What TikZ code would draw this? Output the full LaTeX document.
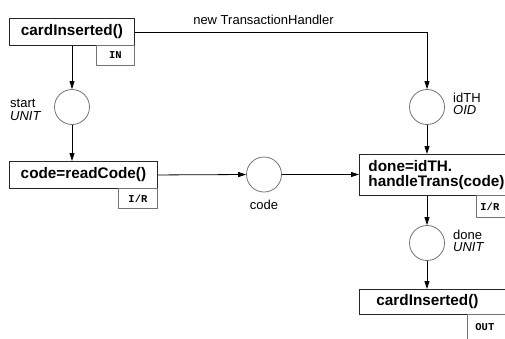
\documentclass[tikz,border=0pt]{standalone}
\usepackage{fontspec}
\setmainfont{Liberation Sans}
\newfontfamily\tagfont{Liberation Mono}
\usetikzlibrary{arrows.meta}

\begin{document}
\begin{tikzpicture}[x=1pt,y=-1pt,
  op/.style={draw=black!85, line width=0.9pt, font=\fontsize{15.3}{14.5}\selectfont\bfseries,
             inner ysep=0pt, anchor=north west},
  tagbox/.style={draw=black!55, line width=0.8pt, font=\tagfont\fontsize{10.5}{12}\selectfont\bfseries,
             inner ysep=0pt, anchor=north west, align=left},
  place/.style={circle, draw=black!55, line width=0.8pt, minimum size=35pt, inner sep=0pt},
  lbl/.style={font=\fontsize{13}{12.5}\selectfont, inner sep=0pt, align=left},
  flow/.style={draw=black, line width=0.8pt, -{Triangle[length=8pt,width=5pt]}},
]
\useasboundingbox (0,0) rectangle (505,338);
\clip (0,0) rectangle (505,338);

% operation boxes
\node[op, minimum width=125pt, minimum height=27pt, inner xsep=0pt] (ci1) at (9,18) {cardInserted()};
\node[op, minimum width=148pt, minimum height=27pt, inner xsep=0pt] (rc) at (9,161) {code=readCode()};
\node[op, text width=140pt, inner xsep=9pt, minimum height=41pt, align=left] (ht) at (359,154)
  {done=idTH.\\handleTrans(code)};
\node[op, text width=113pt, inner xsep=17pt, minimum height=25pt, align=left] (ci2) at (359,289) {cardInserted()};

% kind tags under the boxes
\node[tagbox, minimum width=38pt, minimum height=20pt, inner xsep=0pt, align=center] (tin) at (96,45) {IN};
\node[tagbox, minimum width=39pt, minimum height=20pt, inner xsep=0pt, align=center] (tir1) at (118,188) {I/R};
\node[tagbox, text width=32pt, inner xsep=4pt, minimum height=22pt] (tir2) at (476,195) {I/R};
\node[tagbox, text width=32pt, inner xsep=8pt, minimum height=26pt] (tout) at (467,314) {OUT};

% places
\node[place] (pstart) at (72,107) {};
\node[place] (pid) at (427,107) {};
\node[place] (pcode) at (264,174.5) {};
\node[place] (pdone) at (427,243) {};

% place labels
\node[lbl, anchor=west] (lstart) at (10,110) {start\\\textit{UNIT}};
\node[lbl, anchor=west] (lid) at (453,104) {idTH\\\textit{OID}};
\node[lbl, anchor=west] (ldone) at (453,241) {done\\\textit{UNIT}};
\node[lbl] (lcode) at (264,205) {code};
\node[lbl] (lnew) at (263.5,20) {new TransactionHandler};

% flows
\draw[flow] (ci1.east) -| (pid.north);
\draw[flow] (pstart.north |- ci1.south) -- (pstart.north);
\draw[flow] (pstart.south) -- (pstart.south |- rc.north);
\draw[flow] (rc.east) -- (pcode.west);
\draw[flow] (pcode.east) -- (pcode.east -| ht.west);
\draw[flow] (pid.south) -- (pid.south |- ht.north);
\draw[flow] (pdone.north |- ht.south) -- (pdone.north);
\draw[flow] (pdone.south) -- (pdone.south |- ci2.north);
\end{tikzpicture}
\end{document}
